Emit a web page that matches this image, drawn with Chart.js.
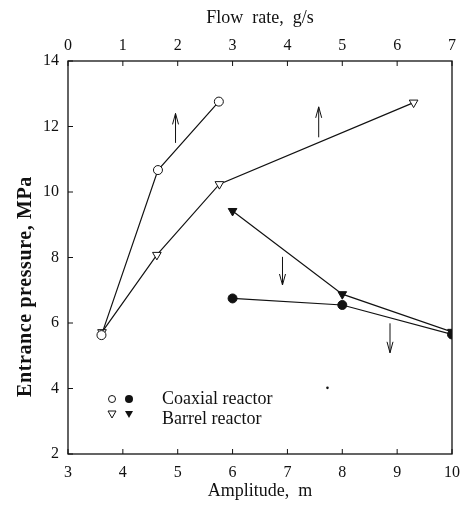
<!DOCTYPE html>
<html>
<head>
<meta charset="utf-8">
<script src="https://cdn.jsdelivr.net/npm/chart.js@4/dist/chart.umd.min.js"></script>
<style>
  html, body { margin: 0; padding: 0; background: #fff; }
  #wrap { width: 469px; height: 506px; }
</style>
</head>
<body>
<div id="wrap"><canvas id="c" width="469" height="506"></canvas></div>
<script>
// ---- data ----
const amplitudeTicks = [3, 4, 5, 6, 7, 8, 9, 10];
const flowTicks = [0, 1, 2, 3, 4, 5, 6, 7];
const pressureTicks = [2, 4, 6, 8, 10, 12, 14];

// open symbols: vs flow rate (top axis)
const coaxialFlow = [0.61, 1.64, 2.75];
const coaxialFlowPressure = [5.63, 10.67, 12.76];
const barrelFlow = [0.62, 1.62, 2.76, 6.30];
const barrelFlowPressure = [5.72, 8.08, 10.24, 12.73];

// filled symbols: vs amplitude (bottom axis)
const coaxialAmp = [6, 8, 10];
const coaxialAmpPressure = [6.75, 6.55, 5.65];
const barrelAmp = [6, 8, 10];
const barrelAmpPressure = [9.42, 6.88, 5.73];

// stray speck in the scan
const speckAmp = [7.73];
const speckPressure = [4.02];

// direction arrows: axis, x, from-pressure, to-pressure
const arrowAxis = ['xTop', 'xTop', 'x', 'x'];
const arrowX = [1.96, 4.57, 6.91, 8.87];
const arrowFrom = [11.5, 11.67, 8.02, 5.99];
const arrowTo = [12.4, 12.6, 7.16, 5.09];

const legendLabels = ['Coaxial reactor', 'Barrel reactor'];

const pts = (xs, ys) => xs.map((x, i) => ({ x, y: ys[i] }));
const SERIF = '"Liberation Serif", "Times New Roman", serif';
const INK = '#111';

const framePlugin = {
  id: 'frame',
  afterDatasetsDraw(chart) {
    const { ctx, chartArea: a, scales } = chart;
    ctx.save();
    ctx.strokeStyle = INK;
    ctx.lineWidth = 1.3;
    ctx.strokeRect(a.left, a.top, a.right - a.left, a.bottom - a.top);
    // inward ticks
    ctx.lineWidth = 1;
    const tl = 5;
    amplitudeTicks.forEach(v => {
      const px = scales.x.getPixelForValue(v);
      ctx.beginPath(); ctx.moveTo(px, a.bottom); ctx.lineTo(px, a.bottom - tl); ctx.stroke();
    });
    flowTicks.forEach(v => {
      const px = scales.xTop.getPixelForValue(v);
      ctx.beginPath(); ctx.moveTo(px, a.top); ctx.lineTo(px, a.top + tl); ctx.stroke();
    });
    pressureTicks.forEach(v => {
      const py = scales.y.getPixelForValue(v);
      ctx.beginPath(); ctx.moveTo(a.left, py); ctx.lineTo(a.left + tl, py); ctx.stroke();
    });
    // arrows
    ctx.lineWidth = 1;
    arrowX.forEach((xv, i) => {
      const px = scales[arrowAxis[i]].getPixelForValue(xv);
      const y1 = scales.y.getPixelForValue(arrowFrom[i]);
      const y2 = scales.y.getPixelForValue(arrowTo[i]);
      const dir = y2 < y1 ? 1 : -1;
      ctx.beginPath(); ctx.moveTo(px, y1); ctx.lineTo(px, y2); ctx.stroke();
      ctx.beginPath();
      ctx.moveTo(px - 3, y2 + dir * 11);
      ctx.lineTo(px, y2);
      ctx.lineTo(px + 3, y2 + dir * 11);
      ctx.stroke();
    });
    // legend
    const lx = a.left + 44, ly1 = a.bottom - 55, ly2 = a.bottom - 37;
    ctx.fillStyle = INK;
    ctx.beginPath(); ctx.arc(lx, ly1, 3.5, 0, Math.PI * 2); ctx.stroke();
    ctx.beginPath(); ctx.arc(lx + 17, ly1, 4, 0, Math.PI * 2); ctx.fill();
    const tri = (cx, cy, fill) => {
      ctx.beginPath();
      ctx.moveTo(cx - 4, cy - 3); ctx.lineTo(cx + 4, cy - 3); ctx.lineTo(cx, cy + 4); ctx.closePath();
      fill ? ctx.fill() : ctx.stroke();
    };
    tri(lx, ly2 - 3, false);
    tri(lx + 17, ly2 - 3, true);
    ctx.font = '18px ' + SERIF;
    ctx.textBaseline = 'middle';
    ctx.textAlign = 'left';
    ctx.fillText(legendLabels[0], lx + 50, ly1);
    ctx.fillText(legendLabels[1], lx + 50, ly2 + 2);
    // y title
    ctx.save();
    ctx.translate(26, (a.top + a.bottom) / 2 + 29);
    ctx.rotate(-Math.PI / 2);
    ctx.textAlign = 'center';
    ctx.font = 'bold 20px ' + SERIF;
    if ('letterSpacing' in ctx) ctx.letterSpacing = '0.6px';
    ctx.fillText('Entrance pressure, MPa', 0, 0);
    ctx.restore();
    ctx.restore();
  }
};

const lineDs = (label, data, axis, style, fill, radius, rot) => ({
  label, data, xAxisID: axis, yAxisID: 'y',
  showLine: true, borderColor: INK, borderWidth: 1.2,
  pointStyle: style, pointRotation: rot || 0,
  pointRadius: radius, pointHoverRadius: radius,
  pointBackgroundColor: fill ? INK : '#fff',
  pointBorderColor: INK, pointBorderWidth: 1,
  tension: 0
});

new Chart(document.getElementById('c'), {
  type: 'scatter',
  data: {
    datasets: [
      lineDs('Coaxial (flow)', pts(coaxialFlow, coaxialFlowPressure), 'xTop', 'circle', false, 4.5),
      lineDs('Barrel (flow)', pts(barrelFlow, barrelFlowPressure), 'xTop', 'triangle', false, 5, 180),
      lineDs('Coaxial (amplitude)', pts(coaxialAmp, coaxialAmpPressure), 'x', 'circle', true, 4.5),
      lineDs('Barrel (amplitude)', pts(barrelAmp, barrelAmpPressure), 'x', 'triangle', true, 5, 180),
      { label: 'speck', data: pts(speckAmp, speckPressure), xAxisID: 'x', yAxisID: 'y',
        pointRadius: 1.3, pointBackgroundColor: INK, pointBorderWidth: 0, showLine: false }
    ]
  },
  options: {
    responsive: false,
    animation: false,
    layout: { padding: { left: 0, right: 10, top: 0, bottom: 0 } },
    plugins: { legend: { display: false }, tooltip: { enabled: false } },
    scales: {
      x: {
        type: 'linear', position: 'bottom', min: 3, max: 10,
        afterBuildTicks: s => { s.ticks = amplitudeTicks.map(v => ({ value: v })); },
        afterFit: s => { s.height = 52; },
        grid: { display: false, drawTicks: false },
        border: { display: false },
        ticks: { color: INK, font: { family: SERIF, size: 16 }, padding: 9, maxRotation: 0 },
        title: { display: true, text: 'Amplitude,  m', color: INK, font: { family: SERIF, size: 18 }, padding: { top: 0, bottom: 4 } }
      },
      xTop: {
        type: 'linear', position: 'top', min: 0, max: 7,
        afterBuildTicks: s => { s.ticks = flowTicks.map(v => ({ value: v })); },
        afterFit: s => { s.height = 61; },
        grid: { display: false, drawTicks: false },
        border: { display: false },
        ticks: { color: INK, font: { family: SERIF, size: 16 }, padding: 6, maxRotation: 0 },
        title: { display: true, text: 'Flow  rate,  g/s', color: INK, font: { family: SERIF, size: 18 }, padding: { top: 7, bottom: 0 } }
      },
      y: {
        type: 'linear', position: 'left', min: 2, max: 14,
        afterBuildTicks: s => { s.ticks = pressureTicks.map(v => ({ value: v })); },
        afterFit: s => { s.width = 68; },
        grid: { display: false, drawTicks: false },
        border: { display: false },
        ticks: { color: INK, font: { family: SERIF, size: 16 }, padding: 9 }
      }
    }
  },
  plugins: [framePlugin]
});
</script>
</body>
</html>
